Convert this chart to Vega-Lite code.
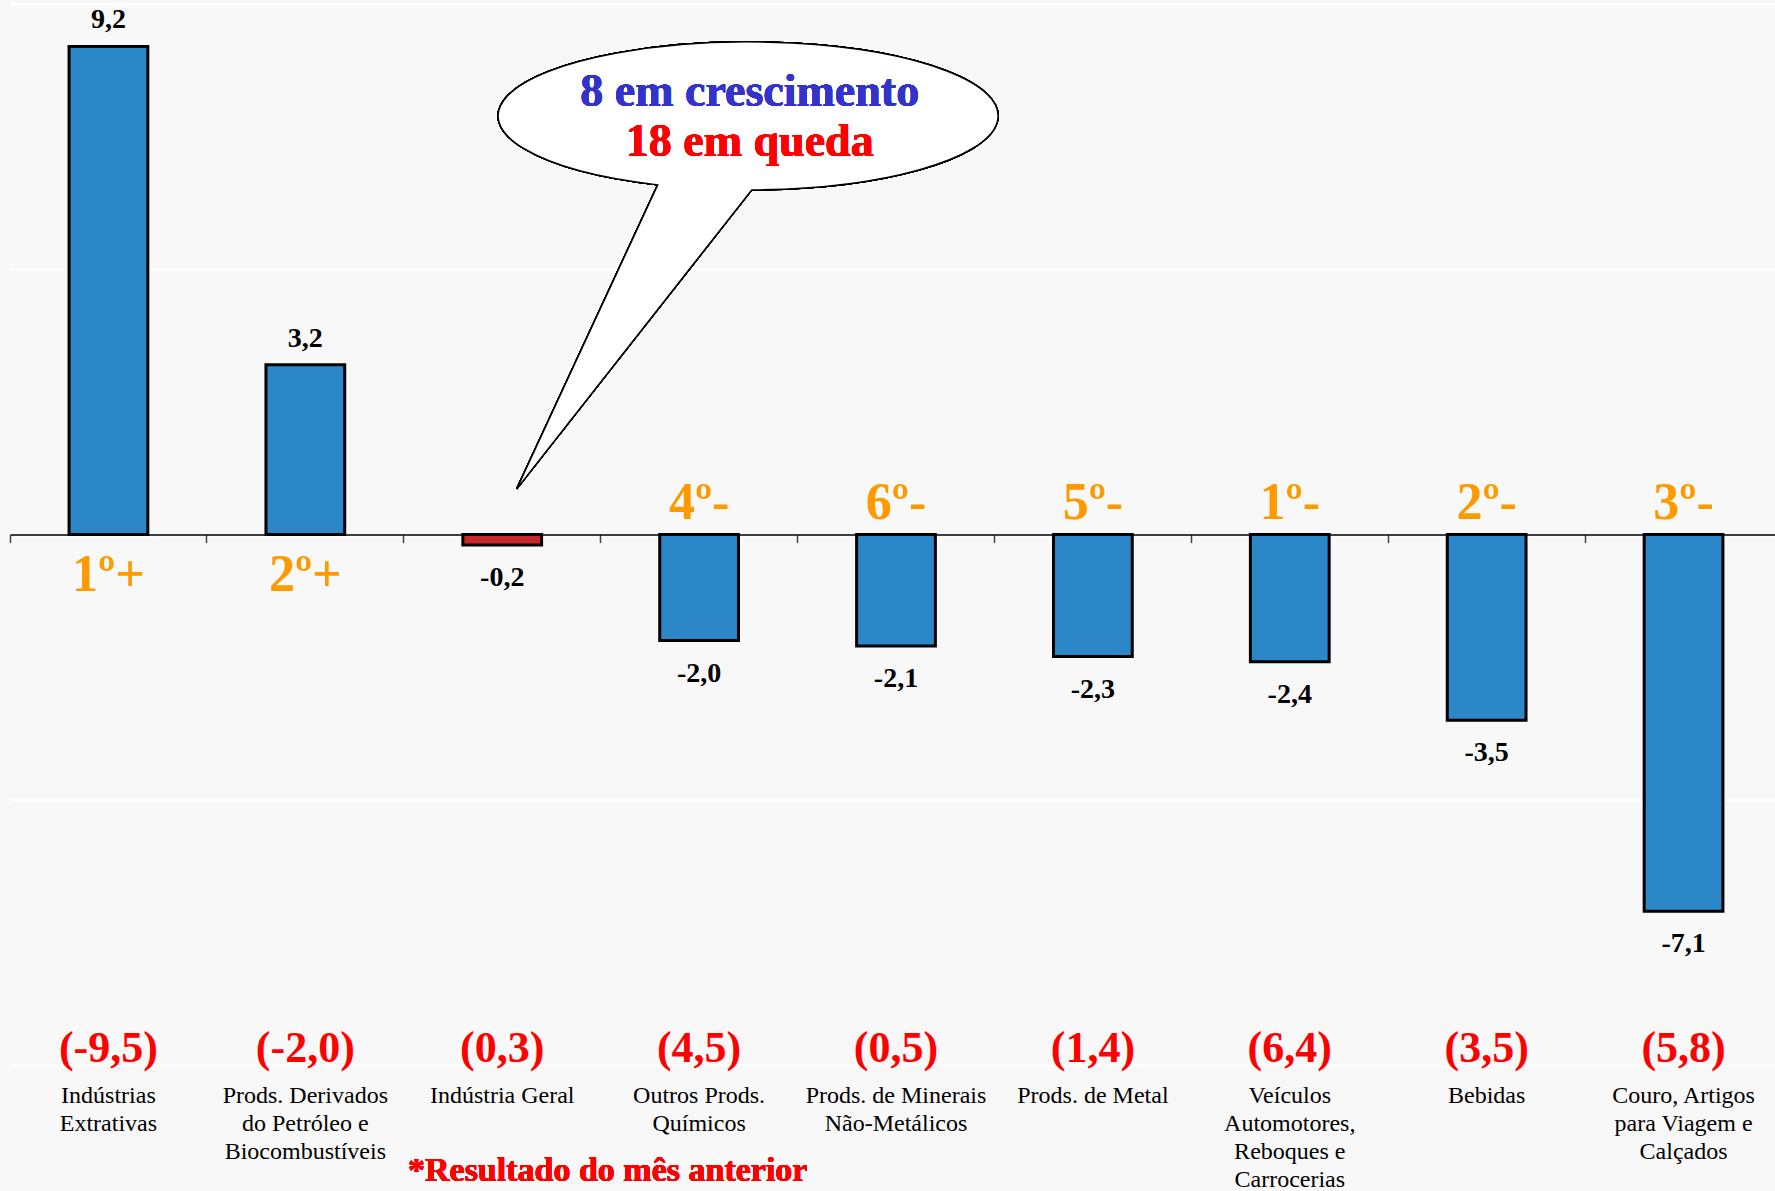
{
  "$schema": "https://vega.github.io/schema/vega-lite/v6.json",
  "width": 1772,
  "height": 1061,
  "padding": {"left": 9, "top": 4, "right": 0, "bottom": 0},
  "background": "#f8f8f8",
  "config": {
    "font": "Liberation Serif",
    "view": {"stroke": null},
    "axisY": {"labels": false, "ticks": false, "domain": false, "gridColor": "#ffffff", "gridWidth": 2}
  },
  "data": {
    "values": [
      {"setor": "Indústrias Extrativas", "valor": 9.2, "anterior": -9.5, "posicao": "1º+"},
      {"setor": "Prods. Derivados do Petróleo e Biocombustíveis", "valor": 3.2, "anterior": -2.0, "posicao": "2º+"},
      {"setor": "Indústria Geral", "valor": -0.2, "anterior": 0.3, "posicao": ""},
      {"setor": "Outros Prods. Químicos", "valor": -2.0, "anterior": 4.5, "posicao": "4º-"},
      {"setor": "Prods. de Minerais Não-Metálicos", "valor": -2.1, "anterior": 0.5, "posicao": "6º-"},
      {"setor": "Prods. de Metal", "valor": -2.3, "anterior": 1.4, "posicao": "5º-"},
      {"setor": "Veículos Automotores, Reboques e Carrocerias", "valor": -2.4, "anterior": 6.4, "posicao": "1º-"},
      {"setor": "Bebidas", "valor": -3.5, "anterior": 3.5, "posicao": "2º-"},
      {"setor": "Couro, Artigos para Viagem e Calçados", "valor": -7.1, "anterior": 5.8, "posicao": "3º-"}
    ]
  },
  "transform": [
    {"calculate": "replace(replace(format(datum.valor, '.1f'), '.', ','), '\u2212', '-')", "as": "rot_valor"},
    {"calculate": "'(' + replace(replace(format(datum.anterior, '.1f'), '.', ','), '\u2212', '-') + ')'", "as": "rot_anterior"}
  ],
  "resolve": {"axis": {"x": "independent"}},
  "layer": [
    {
      "mark": {"type": "bar", "stroke": "black", "strokeWidth": 3, "width": {"band": 0.4}},
      "encoding": {
        "x": {
          "field": "setor", "type": "nominal", "sort": null,
          "scale": {"paddingInner": 0, "paddingOuter": 0},
          "axis": {
            "orient": "bottom", "title": null, "labelAngle": 0, "labelFontSize": 24, "labelLineHeight": 28,
            "labelPadding": 18, "labelColor": "black", "labelFont": "Liberation Serif", "labelLimit": 400,
            "labelOverlap": false, "ticks": false, "tickSize": 0, "domain": false, "grid": false,
            "labelExpr": "datum.value == 'Indústrias Extrativas' ? ['Indústrias', 'Extrativas'] : datum.value == 'Prods. Derivados do Petróleo e Biocombustíveis' ? ['Prods. Derivados', 'do Petróleo e', 'Biocombustíveis'] : datum.value == 'Outros Prods. Químicos' ? ['Outros Prods.', 'Químicos'] : datum.value == 'Prods. de Minerais Não-Metálicos' ? ['Prods. de Minerais', 'Não-Metálicos'] : datum.value == 'Veículos Automotores, Reboques e Carrocerias' ? ['Veículos', 'Automotores,', 'Reboques e', 'Carrocerias'] : datum.value == 'Couro, Artigos para Viagem e Calçados' ? ['Couro, Artigos', 'para Viagem e', 'Calçados'] : datum.value"
          }
        },
        "y": {
          "field": "valor", "type": "quantitative",
          "scale": {"domain": [-10, 10], "nice": false},
          "axis": {"values": [-10, -5, 0, 5, 10], "title": null, "grid": true}
        },
        "fill": {"condition": {"test": "datum.setor === 'Indústria Geral'", "value": "#c8282a"}, "value": "#2b87c8"}
      }
    },
    {
      "transform": [{"filter": "datum.valor > 0"}],
      "mark": {"type": "text", "fontSize": 28, "fontWeight": "bold", "color": "black", "baseline": "alphabetic", "dy": -18},
      "encoding": {
        "x": {"field": "setor", "type": "nominal", "sort": null, "axis": null},
        "y": {"field": "valor", "type": "quantitative", "axis": {"values": [-10, -5, 0, 5, 10], "title": null, "grid": true}},
        "text": {"field": "rot_valor"}
      }
    },
    {
      "transform": [{"filter": "datum.valor < 0"}],
      "mark": {"type": "text", "fontSize": 28, "fontWeight": "bold", "color": "black", "baseline": "top", "dy": 19},
      "encoding": {
        "x": {"field": "setor", "type": "nominal", "sort": null, "axis": null},
        "y": {"field": "valor", "type": "quantitative", "axis": {"values": [-10, -5, 0, 5, 10], "title": null, "grid": true}},
        "text": {"field": "rot_valor"}
      }
    },
    {
      "transform": [{"filter": "datum.valor > 0"}],
      "mark": {"type": "text", "fontSize": 52, "fontWeight": "bold", "color": "#ff9900", "baseline": "top", "dy": 15},
      "encoding": {
        "x": {"field": "setor", "type": "nominal", "sort": null, "axis": null},
        "y": {"datum": 0, "type": "quantitative", "axis": {"values": [-10, -5, 0, 5, 10], "title": null, "grid": true}},
        "text": {"field": "posicao"}
      }
    },
    {
      "transform": [{"filter": "datum.valor < 0 && datum.posicao != ''"}],
      "mark": {"type": "text", "fontSize": 52, "fontWeight": "bold", "color": "#ff9900", "baseline": "alphabetic", "dy": -16},
      "encoding": {
        "x": {"field": "setor", "type": "nominal", "sort": null, "axis": null},
        "y": {"datum": 0, "type": "quantitative", "axis": {"values": [-10, -5, 0, 5, 10], "title": null, "grid": true}},
        "text": {"field": "posicao"}
      }
    },
    {
      "mark": {"type": "text", "fontSize": 44, "fontWeight": "bold", "color": "#ff0000", "baseline": "middle"},
      "encoding": {
        "x": {
          "field": "setor", "type": "nominal", "sort": null,
          "axis": {
            "orient": "bottom", "offset": -530.5, "bandPosition": 0, "labels": false, "ticks": true,
            "tickSize": 8, "tickColor": "#444444", "tickWidth": 1.5, "domain": true, "domainColor": "black",
            "domainWidth": 1.5, "grid": false, "title": null
          }
        },
        "y": {"datum": -9.7, "type": "quantitative", "axis": {"values": [-10, -5, 0, 5, 10], "title": null, "grid": true}},
        "text": {"field": "rot_anterior"}
      }
    },
    {
      "mark": {
        "type": "point", "shape": "M 14.5 0 L 155.5 -304 A 250 74 0 1 1 249.5 -299 Z",
        "size": 4, "filled": true, "fill": "white", "stroke": "black", "strokeWidth": 1.5, "opacity": 1
      },
      "encoding": {
        "x": {"datum": "Indústria Geral", "type": "nominal", "axis": null},
        "y": {"datum": 0.86, "type": "quantitative", "axis": {"values": [-10, -5, 0, 5, 10], "title": null, "grid": true}}
      }
    },
    {
      "mark": {"type": "text", "text": "8 em crescimento", "fontSize": 46, "fontWeight": "bold", "color": "#3333cc", "baseline": "middle", "dx": 247.5},
      "encoding": {
        "x": {"datum": "Indústria Geral", "type": "nominal", "axis": null},
        "y": {"datum": 8.35, "type": "quantitative", "axis": {"values": [-10, -5, 0, 5, 10], "title": null, "grid": true}}
      }
    },
    {
      "mark": {"type": "text", "text": "18 em queda", "fontSize": 46, "fontWeight": "bold", "color": "#ff0000", "baseline": "middle", "dx": 247.5},
      "encoding": {
        "x": {"datum": "Indústria Geral", "type": "nominal", "axis": null},
        "y": {"datum": 7.39, "type": "quantitative", "axis": {"values": [-10, -5, 0, 5, 10], "title": null, "grid": true}}
      }
    },
    {
      "mark": {"type": "text", "text": "*Resultado do mês anterior", "fontSize": 34, "fontWeight": "bold", "color": "#ff0000", "baseline": "middle", "dx": 105.5},
      "encoding": {
        "x": {"datum": "Indústria Geral", "type": "nominal", "axis": null},
        "y": {"datum": -12, "type": "quantitative", "axis": {"values": [-10, -5, 0, 5, 10], "title": null, "grid": true}}
      }
    }
  ]
}
